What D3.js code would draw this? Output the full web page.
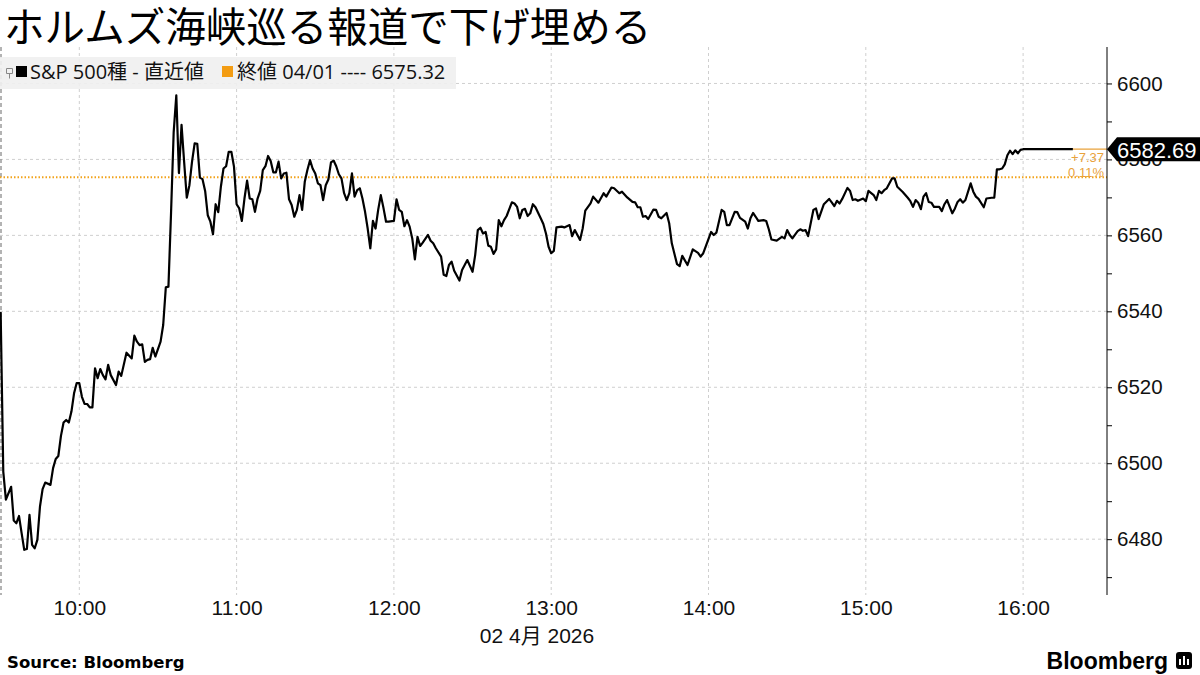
<!DOCTYPE html>
<html>
<head>
<meta charset="utf-8">
<script src="https://cdn.jsdelivr.net/npm/d3@7"></script>
<style>
  body { margin: 0; background: #fff; }
  svg { display: block; font-family: "Liberation Sans", "Noto Sans CJK JP", sans-serif; }
</style>
</head>
<body>
<div id="chart"></div>
<script>
// S&P 500, 2026-04-02
var day = "2026-04-02";
var times = [
  "09:30","09:31","09:32","09:34","09:35","09:36","09:37","09:38","09:39","09:40","09:41","09:42","09:43","09:44","09:45","09:46","09:47","09:49","09:50","09:51","09:52","09:53","09:54","09:55","09:56","09:57","09:58","09:59",
  "10:00","10:01","10:02","10:03","10:04","10:05","10:06","10:07","10:08","10:09","10:10","10:11","10:12","10:14","10:15","10:16","10:18","10:20","10:21","10:22","10:23","10:24","10:25","10:26","10:27","10:28","10:29","10:31","10:32","10:33","10:34","10:35","10:36","10:37","10:38","10:39","10:40","10:41","10:42","10:43","10:44","10:45","10:46","10:47","10:48","10:49","10:50","10:51","10:52","10:53","10:54","10:55","10:56","10:57","10:58","10:59",
  "11:00","11:01","11:02","11:03","11:04","11:05","11:06","11:07","11:08","11:09","11:10","11:11","11:12","11:13","11:14","11:15","11:16","11:17","11:18","11:19","11:20","11:21","11:22","11:23","11:24","11:25","11:26","11:27","11:28","11:29","11:30","11:31","11:32","11:33","11:34","11:35","11:36","11:37","11:38","11:39","11:40","11:41","11:42","11:43","11:44","11:45","11:46","11:47","11:48","11:49","11:50","11:51","11:52","11:53","11:54","11:55","11:56","11:57","11:58",
  "12:00","12:01","12:02","12:03","12:04","12:05","12:06","12:07","12:08","12:09","12:10","12:11","12:13","12:14","12:15","12:16","12:18","12:19","12:20","12:21","12:22","12:23","12:25","12:26","12:28","12:30","12:31","12:32","12:33","12:34","12:35","12:36","12:37","12:38","12:39","12:40","12:41","12:42","12:43","12:45","12:46","12:47","12:48","12:49","12:50","12:51","12:52","12:53","12:54","12:56","12:57","12:58","12:59",
  "13:00","13:01","13:02","13:04","13:05","13:07","13:08","13:09","13:10","13:11","13:12","13:13","13:15","13:16","13:18","13:20","13:21","13:23","13:24","13:26","13:27","13:29","13:31","13:32","13:33","13:34","13:35","13:36","13:37","13:39","13:40","13:41","13:42","13:44","13:45","13:46","13:48","13:49","13:50","13:52","13:54","13:56","13:57","13:58",
  "14:01","14:02","14:03","14:05","14:06","14:07","14:08","14:10","14:11","14:12","14:14","14:15","14:16","14:17","14:18","14:19","14:21","14:22","14:23","14:24","14:26","14:28","14:29","14:30","14:31","14:32","14:34","14:35","14:36","14:37","14:38","14:40","14:41","14:42","14:44","14:46","14:47","14:48","14:49","14:50","14:51","14:53","14:54","14:55","14:56","14:57","14:59",
  "15:00","15:01","15:03","15:04","15:05","15:06","15:07","15:08","15:10","15:11","15:12","15:14","15:16","15:17","15:18","15:19","15:20","15:21","15:22","15:23","15:24","15:25","15:26","15:28","15:29","15:30","15:31","15:33","15:34","15:35","15:36","15:37","15:38","15:40","15:41","15:42","15:43","15:45","15:46","15:48","15:49","15:50","15:51","15:52","15:53","15:54","15:55","15:56","15:57","15:58","15:59",
  "16:00","16:19"
];
var prices = [
  6539.8,6497.8,6490.4,6493.8,6484.9,6484.2,6486.1,6481.6,6477.2,6477.4,6486.4,6478.5,6477.6,6479.8,6488.6,6493.2,6494.9,6494.3,6498.7,6501.1,6501.9,6507.2,6510.7,6511.4,6510.7,6513.6,6518.4,6521.1,
  6521.1,6517.5,6515.6,6515.6,6514.7,6514.7,6525.0,6522.4,6524.8,6523.2,6522.1,6525.9,6523.2,6520.6,6524.1,6523.0,6529.1,6527.6,6533.6,6532.0,6531.1,6531.3,6526.7,6527.2,6527.4,6530.4,6528.1,6532.0,6536.4,6546.3,6546.5,6566.0,6587.2,6596.9,6576.4,6589.1,6579.2,6569.9,6573.2,6579.4,6584.2,6584.1,6575.2,6574.8,6571.7,6565.3,6563.6,6560.3,6568.2,6566.1,6572.8,6577.6,6578.2,6582.0,6582.0,6578.1,
  6568.2,6567.1,6563.8,6569.7,6574.4,6569.7,6569.5,6566.2,6569.7,6571.7,6577.2,6578.2,6580.9,6579.6,6576.6,6576.6,6579.4,6575.0,6576.3,6576.5,6569.5,6568.0,6564.9,6566.7,6570.6,6566.7,6574.1,6577.2,6579.8,6577.6,6576.3,6573.7,6573.2,6569.3,6573.2,6574.7,6579.2,6579.7,6578.2,6576.1,6575.0,6571.1,6569.3,6571.1,6576.3,6570.2,6571.9,6572.4,6569.7,6566.2,6561.8,6556.6,6563.8,6561.8,6566.7,6570.6,6567.3,6563.6,6563.6,
  6563.8,6569.5,6566.7,6566.2,6562.4,6564.0,6562.3,6559.2,6553.7,6559.6,6557.2,6558.1,6560.1,6558.6,6557.9,6556.6,6554.4,6549.6,6549.3,6552.2,6553.1,6550.7,6548.1,6550.9,6553.5,6550.4,6554.8,6561.4,6562.0,6560.5,6560.9,6557.3,6557.0,6555.1,6556.3,6564.0,6562.4,6564.0,6565.1,6568.7,6568.4,6567.5,6564.5,6566.7,6567.0,6565.1,6565.8,6568.2,6567.4,6564.5,6563.0,6560.5,6557.0,
  6555.3,6555.9,6562.1,6562.3,6562.1,6562.7,6559.8,6561.4,6560.1,6558.8,6561.8,6566.5,6568.4,6570.2,6568.6,6571.1,6570.2,6572.6,6572.4,6571.1,6571.5,6570.0,6568.8,6568.7,6567.4,6567.4,6564.9,6565.1,6564.3,6566.8,6566.7,6564.9,6564.5,6565.9,6563.2,6557.9,6552.4,6551.9,6554.6,6552.2,6556.3,6555.4,6554.4,6555.3,
  6560.9,6560.1,6560.7,6566.7,6566.2,6562.7,6562.7,6566.2,6566.1,6564.6,6563.6,6561.8,6564.5,6565.9,6564.9,6563.8,6564.0,6563.8,6561.6,6558.9,6558.6,6559.6,6559.2,6561.4,6560.1,6559.2,6561.1,6561.6,6561.2,6561.4,6559.8,6566.7,6567.1,6564.3,6568.2,6569.6,6568.7,6567.7,6569.1,6568.4,6569.6,6572.5,6571.7,6569.3,6569.5,6569.1,6569.7,
  6569.0,6571.7,6570.6,6569.3,6571.7,6571.1,6571.9,6572.4,6575.0,6575.0,6572.8,6571.5,6569.9,6569.0,6567.5,6569.3,6568.6,6566.9,6570.2,6571.1,6568.8,6568.6,6567.5,6567.5,6566.4,6568.2,6569.3,6565.8,6567.1,6568.8,6569.5,6568.6,6569.3,6573.7,6571.5,6570.2,6569.6,6567.4,6569.7,6569.9,6569.9,6577.4,6577.4,6577.6,6578.7,6581.1,6582.3,6581.4,6582.4,6581.6,6582.5,
  6582.69,6582.69
];
var prevClose = 6575.32;
var lastPrice = 6582.69;
var xTicks = ["10:00","11:00","12:00","13:00","14:00","15:00","16:00"];
var yTicks = [6480, 6500, 6520, 6540, 6560, 6580, 6600];
var yMinorTicks = [6470, 6480, 6490, 6500, 6510, 6520, 6530, 6540, 6550, 6560, 6570, 6580, 6590, 6600];

var width = 1200, height = 675;
var plotLeft = 0.65, plotRight = 1107, plotTop = 47, plotBottom = 595;
var parseT = d3.timeParse("%Y-%m-%d %H:%M");

var data = times.map(function(t, i) { return {t: parseT(day + " " + t), v: prices[i]}; });

var svg = d3.select("#chart").append("svg")
  .attr("width", width)
  .attr("height", height);

var x = d3.scaleTime()
  .domain([parseT(day + " 09:30"), parseT(day + " 16:32")])
  .range([plotLeft, plotRight]);

var y = d3.scaleLinear()
  .domain([6465.3, 6609.6])
  .range([plotBottom, plotTop]);

// title
svg.append("text")
  .attr("x", 4)
  .attr("y", 42)
  .style("font-family", "'Noto Sans CJK JP', sans-serif")
  .style("font-size", "40.5px")
  .style("fill", "#000")
  .text("ホルムズ海峡巡る報道で下げ埋める");

// grid
var grid = svg.append("g");
grid.selectAll(".hgrid")
  .data(yTicks)
  .enter().append("line")
  .attr("x1", 0).attr("x2", plotRight)
  .attr("y1", function(d) { return y(d); })
  .attr("y2", function(d) { return y(d); })
  .style("stroke", "#cfcfcf")
  .style("stroke-dasharray", "3,3");

grid.selectAll(".vgrid")
  .data(xTicks)
  .enter().append("line")
  .attr("x1", function(d) { return x(parseT(day + " " + d)); })
  .attr("x2", function(d) { return x(parseT(day + " " + d)); })
  .attr("y1", plotTop).attr("y2", plotBottom)
  .style("stroke", "#cfcfcf")
  .style("stroke-dasharray", "3,3");

// session open line at left edge
grid.append("line")
  .attr("x1", 1).attr("x2", 1)
  .attr("y1", plotTop).attr("y2", plotBottom)
  .style("stroke", "#9a9a9a")
  .style("stroke-width", 1.5)
  .style("stroke-dasharray", "4,3");

// legend
var legend = svg.append("g")
  .style("font-family", "'Open Sans', 'Noto Sans CJK JP', sans-serif");
legend.append("rect")
  .attr("x", 0).attr("y", 57)
  .attr("width", 456).attr("height", 32)
  .style("fill", "#efefef")
  .style("opacity", 0.9);
legend.append("path")
  .attr("d", "M6.5,68.5 h6 v5 h-6 z M9.5,73.5 v5")
  .style("fill", "none")
  .style("stroke", "#888")
  .style("stroke-width", 1);
legend.append("rect")
  .attr("x", 16).attr("y", 66)
  .attr("width", 11).attr("height", 11)
  .style("fill", "#000");
legend.append("text")
  .attr("x", 30).attr("y", 72)
  .attr("dy", "0.35em")
  .style("font-size", "20px")
  .style("fill", "#111")
  .text("S&P 500種 - 直近値");
legend.append("rect")
  .attr("x", 222).attr("y", 66)
  .attr("width", 11).attr("height", 11)
  .style("fill", "#f39c12");
legend.append("text")
  .attr("x", 237).attr("y", 72)
  .attr("dy", "0.35em")
  .style("font-size", "20px")
  .style("fill", "#111")
  .text("終値 04/01 ---- 6575.32");

// previous close
svg.append("line")
  .attr("x1", 0).attr("x2", plotRight)
  .attr("y1", y(prevClose)).attr("y2", y(prevClose))
  .style("stroke", "#f2a31b")
  .style("stroke-width", 2)
  .style("stroke-dasharray", "1.5,2");

// price line
var line = d3.line()
  .x(function(d) { return x(d.t); })
  .y(function(d) { return y(d.v); });

svg.append("path")
  .datum(data)
  .attr("d", line)
  .style("fill", "none")
  .style("stroke", "#000")
  .style("stroke-width", 2.2)
  .style("stroke-linejoin", "round");

// change annotation
var lastX = x(data[data.length - 1].t);
svg.append("line")
  .attr("x1", lastX).attr("x2", plotRight)
  .attr("y1", y(lastPrice)).attr("y2", y(lastPrice))
  .style("stroke", "#e9a23b")
  .style("stroke-width", 1.2);
svg.append("text")
  .attr("x", 1104).attr("y", y(lastPrice) + 8.5)
  .attr("dy", "0.35em")
  .attr("text-anchor", "end")
  .style("font-size", "13px")
  .style("fill", "#e9a23b")
  .text("+" + (lastPrice - prevClose).toFixed(2));
svg.append("text")
  .attr("x", 1104).attr("y", y(lastPrice) + 23.5)
  .attr("dy", "0.35em")
  .attr("text-anchor", "end")
  .style("font-size", "13px")
  .style("fill", "#e9a23b")
  .text(((lastPrice - prevClose) / prevClose * 100).toFixed(2) + "%");

// y axis
var yAxis = d3.axisRight(y)
  .tickValues(yMinorTicks)
  .tickSize(5)
  .tickPadding(5)
  .tickFormat(function(d) { return yTicks.indexOf(d) >= 0 ? d : ""; });

var yg = svg.append("g")
  .attr("transform", "translate(" + plotRight + ",0)")
  .call(yAxis);
yg.select(".domain").attr("d", "M0," + plotTop + "V" + plotBottom).style("stroke", "#000");
yg.selectAll(".tick line").style("stroke", "#000");
yg.selectAll(".tick text")
  .style("font-family", "'Liberation Sans', sans-serif")
  .style("font-size", "20.5px")
  .style("fill", "#111");

// last price tag
var ly = y(lastPrice);
svg.append("path")
  .attr("d", "M" + plotRight + "," + ly + " L1117," + (ly - 12) + " H1200 V" + (ly + 12) + " H1117 Z")
  .style("fill", "#000");
svg.append("text")
  .attr("x", 1117).attr("y", ly + 1)
  .attr("dy", "0.35em")
  .style("font-size", "22px")
  .style("fill", "#fff")
  .text(lastPrice.toFixed(2));

// x axis labels
var xAxis = d3.axisBottom(x)
  .tickValues(xTicks.map(function(d) { return parseT(day + " " + d); }))
  .tickSize(0)
  .tickPadding(5)
  .tickFormat(d3.timeFormat("%H:%M"));
var xg = svg.append("g")
  .attr("transform", "translate(0," + plotBottom + ")")
  .call(xAxis);
xg.select(".domain").remove();
xg.selectAll(".tick text")
  .style("font-family", "'Liberation Sans', sans-serif")
  .style("font-size", "21px")
  .style("fill", "#111");

svg.append("text")
  .attr("x", 537).attr("y", 636)
  .attr("dy", "0.35em")
  .attr("text-anchor", "middle")
  .style("font-size", "21px")
  .style("fill", "#111")
  .text("02 4月 2026");

// footer
svg.append("text")
  .attr("x", 7).attr("y", 668)
  .style("font-family", "'DejaVu Sans', sans-serif")
  .style("font-weight", "bold")
  .style("font-size", "16.5px")
  .style("fill", "#000")
  .text("Source: Bloomberg");

svg.append("text")
  .attr("x", 1168).attr("y", 669)
  .attr("text-anchor", "end")
  .style("font-family", "'Liberation Sans', sans-serif")
  .style("font-weight", "bold")
  .style("font-size", "23px")
  .style("fill", "#000")
  .text("Bloomberg");
svg.append("rect")
  .attr("x", 1176).attr("y", 652)
  .attr("width", 16).attr("height", 17)
  .attr("rx", 3)
  .style("fill", "#000");
svg.selectAll(".bar")
  .data([0, 1, 2])
  .enter().append("rect")
  .attr("x", function(d) { return 1179 + d * 4; })
  .attr("y", function(d) { return 658 + (d === 1 ? -2 : 1); })
  .attr("width", 2)
  .attr("height", function(d) { return d === 1 ? 9 : 6; })
  .style("fill", "#fff");
</script>
</body>
</html>
